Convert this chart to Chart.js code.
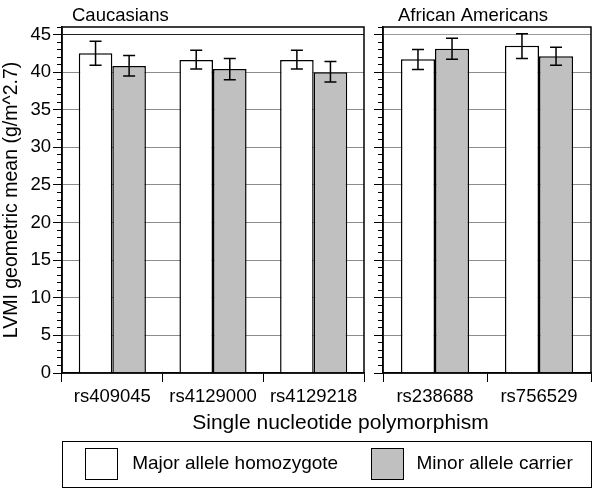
<!DOCTYPE html>
<html>
<head>
<meta charset="utf-8">
<script src="https://cdn.jsdelivr.net/npm/chart.js@4.4.0/dist/chart.umd.min.js"></script>
<style>
  body { margin: 0; width: 600px; height: 492px; background: #fff; position: relative; overflow: hidden;
         font-family: 'Liberation Sans', Arial, sans-serif; color: #000; }
  #wrapL { position: absolute; left: 0; top: 0; width: 372px; height: 412px; }
  #wrapR { position: absolute; left: 372px; top: 0; width: 228px; height: 412px; }
  #xtitle { position: absolute; left: 0; width: 681px; top: 411px; text-align: center; font-size: 21px; line-height: 21px; }
  #legend { position: absolute; left: 62px; top: 441px; width: 530px; height: 47px; box-sizing: border-box; border: 1.5px solid #000; }
  #legend .sw { position: absolute; top: 5.5px; width: 33px; height: 32px; box-sizing: border-box; border: 1.5px solid #000; }
  #legend .lt { position: absolute; top: 10.7px; font-size: 19px; line-height: 19px; white-space: nowrap; }
</style>
</head>
<body>
<div id="wrapL"><canvas id="left"></canvas></div>
<div id="wrapR"><canvas id="right"></canvas></div>
<div id="xtitle">Single nucleotide polymorphism</div>
<div id="legend"></div>
<script>
// séries
const seriesNames = ['Major allele homozygote', 'Minor allele carrier'];
const seriesColors = ['#ffffff', '#c0c0c0'];

// Caucasians
const cauSnps = ['rs409045', 'rs4129000', 'rs4129218'];
const cauMajor = [42.5, 41.6, 41.6];
const cauMajorLo = [40.9, 40.4, 40.4];
const cauMajorHi = [44.1, 42.9, 42.9];
const cauMinor = [40.8, 40.4, 40.0];
const cauMinorLo = [39.5, 39.0, 38.7];
const cauMinorHi = [42.2, 41.8, 41.4];

// African Americans
const afrSnps = ['rs238688', 'rs756529'];
const afrMajor = [41.7, 43.5];
const afrMajorLo = [40.35, 41.8];
const afrMajorHi = [43.0, 45.1];
const afrMinor = [43.1, 42.1];
const afrMinorLo = [41.7, 40.9];
const afrMinorHi = [44.5, 43.3];

const yMax = 46;
const fontFam = "'Liberation Sans', Arial, sans-serif";

// barras de erro desenhadas pela escala y
const errorBars = {
  id: 'errorBars',
  afterDatasetsDraw(chart) {
    const ctx = chart.ctx, y = chart.scales.y;
    ctx.save();
    ctx.strokeStyle = '#000';
    ctx.lineWidth = 1.5;
    chart.data.datasets.forEach((ds, i) => {
      chart.getDatasetMeta(i).data.forEach((bar, j) => {
        const top = y.getPixelForValue(ds.errHi[j]);
        const bot = y.getPixelForValue(ds.errLo[j]);
        ctx.beginPath();
        ctx.moveTo(bar.x, top); ctx.lineTo(bar.x, bot);
        ctx.moveTo(bar.x - 6, top); ctx.lineTo(bar.x + 6, top);
        ctx.moveTo(bar.x - 6, bot); ctx.lineTo(bar.x + 6, bot);
        ctx.stroke();
      });
    });
    ctx.restore();
  }
};

// moldura do painel + título do painel
const panelBox = {
  id: 'panelBox',
  afterDraw(chart, args, opts) {
    const ctx = chart.ctx, a = chart.chartArea;
    ctx.save();
    ctx.strokeStyle = '#000';
    ctx.lineWidth = 1.5;
    ctx.strokeRect(a.left, a.top, a.right - a.left, a.bottom - a.top);
    ctx.fillStyle = '#000';
    ctx.font = '18.5px ' + fontFam;
    ctx.textBaseline = 'alphabetic';
    ctx.fillText(opts.text, a.left + opts.dx, 21);
    ctx.restore();
  }
};

function makePanel(id, snps, major, majLo, majHi, minor, minLo, minHi, cfg) {
  return new Chart(document.getElementById(id), {
    type: 'bar',
    data: {
      labels: snps,
      datasets: [
        { label: seriesNames[0], data: major, errLo: majLo, errHi: majHi,
          backgroundColor: seriesColors[0], borderColor: '#000', borderWidth: 1.5 },
        { label: seriesNames[1], data: minor, errLo: minLo, errHi: minHi,
          backgroundColor: seriesColors[1], borderColor: '#000', borderWidth: 1.5 }
      ]
    },
    options: {
      responsive: true,
      maintainAspectRatio: false,
      animation: false,
      devicePixelRatio: 1,
      layout: { padding: { left: 0, right: cfg.padRight, top: 27, bottom: 0 } },
      datasets: { bar: { barPercentage: 1, categoryPercentage: cfg.catPct } },
      plugins: {
        legend: { display: false },
        tooltip: { enabled: false },
        panelBox: { text: cfg.title, dx: cfg.titleDx }
      },
      scales: {
        x: {
          afterFit: s => { s.height = 39; },
          offset: true,
          ticks: { color: '#000', font: { size: 18.5, family: fontFam }, padding: 4, maxRotation: 0, autoSkip: false },
          grid: { offset: true, drawOnChartArea: false, tickLength: 9, tickColor: '#000', tickWidth: 1 },
          border: { color: '#000', width: 1.5 }
        },
        y: {
          min: 0,
          max: yMax,
          afterFit: s => { s.width = cfg.yWidth; },
          ticks: {
            stepSize: 1, autoSkip: false, display: cfg.showLabels, padding: 2,
            color: '#000', font: { size: 18.5, family: fontFam },
            callback: v => (v % 5 === 0 ? v : '')
          },
          grid: {
            color: c => {
              const v = c.tick.value;
              if (v % 5 !== 0 || v === 0) return 'rgba(0,0,0,0)';
              return v === 45 ? cfg.line45 : '#8c8c8c';
            },
            lineWidth: 1,
            tickLength: 9,
            tickColor: '#000',
            tickWidth: 1,
            tickBorderDash: c => (c.tick.value % 5 === 0 ? [] : [0, 4, 5, 100])
          },
          border: { color: '#000', width: 1.5 },
          title: {
            display: cfg.showLabels,
            text: 'LVMI geometric mean (g/m^2.7)',
            color: '#000',
            font: { size: 19.5, family: fontFam },
            padding: 0
          }
        }
      }
    },
    plugins: [errorBars, panelBox]
  });
}

makePanel('left', cauSnps, cauMajor, cauMajorLo, cauMajorHi, cauMinor, cauMinorLo, cauMinorHi,
  { padRight: 8, yWidth: 62, showLabels: true, catPct: 0.667, title: 'Caucasians', titleDx: 10, line45: '#222' });
makePanel('right', afrSnps, afrMajor, afrMajorLo, afrMajorHi, afrMinor, afrMinorLo, afrMinorHi,
  { padRight: 9, yWidth: 11, showLabels: false, catPct: 0.655, title: 'African Americans', titleDx: 15, line45: '#999' });

// legenda
const legend = document.getElementById('legend');
const swLeft = [21.5, 307.5], txtLeft = [69.2, 353.5];
seriesNames.forEach((name, i) => {
  const sw = document.createElement('span');
  sw.className = 'sw';
  sw.style.left = swLeft[i] + 'px';
  sw.style.background = seriesColors[i];
  legend.appendChild(sw);
  const t = document.createElement('span');
  t.className = 'lt';
  t.style.left = txtLeft[i] + 'px';
  t.textContent = name;
  legend.appendChild(t);
});
</script>
</body>
</html>
